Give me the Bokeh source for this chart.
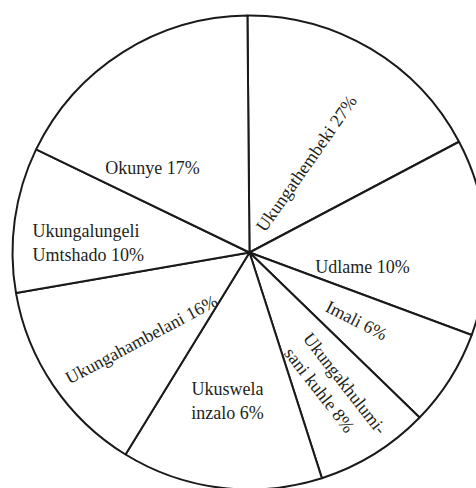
import math
from bokeh.plotting import figure
from bokeh.models import Range1d, ColumnDataSource
from bokeh.core.properties import value
from bokeh.embed import file_html
from bokeh.resources import INLINE

# Slice shares as drawn in the picture (clockwise from the top), and their printed labels
categories = ["Ukungathembeki", "Udlame", "Imali", "Ukungakhulumisani kuhle",
              "Ukuswela inzalo", "Ukungahambelani", "Ukungalungeli Umtshado", "Okunye"]
drawn_share = [17.4, 13.4, 6.6, 7.8, 13.7, 13.5, 9.9, 17.7]
labels = ["Ukungathembeki 27%", "Udlame 10%", "Imali 6%", "Ukungakhulumi-\nsani kuhle 8%",
          "Ukuswela\ninzalo 6%", "Ukungahambelani 16%", "Ukungalungeli\nUmtshado 10%", "Okunye 17%"]

W, H = 476, 488
cx, cy, R = 249, 236, 237
start_deg = 90.5

p = figure(width=W, height=H, output_backend="svg", toolbar_location=None,
           x_range=Range1d(0, W), y_range=Range1d(0, H), min_border=0)
p.axis.visible = False
p.grid.visible = False
p.outline_line_color = None
p.background_fill_color = "white"
p.border_fill_color = "white"

total = sum(drawn_share)
starts, ends = [], []
cum = 0.0
for v in drawn_share:
    a_hi = math.radians(start_deg - cum / total * 360)
    cum += v
    a_lo = math.radians(start_deg - cum / total * 360)
    starts.append(a_lo)
    ends.append(a_hi)

src = ColumnDataSource(dict(x=[cx] * len(starts), y=[cy] * len(starts), s=starts, e=ends))
p.wedge(x="x", y="y", radius=R, start_angle="s", end_angle="e", source=src,
        fill_color="white", line_color="#1a1a1a", line_width=2, direction="anticlock")

# label placement (offset from centre, rotation in degrees, alignment)
place = [(57, 89, 55, "center"), (113, -14, 0, "center"), (107, -68, -27, "center"),
         (48, -90, -52, "left"), (-22, -148, 0, "center"), (-108, -87, 28, "center"),
         (-217, 10, 0, "left"), (-97, 85, 0, "center")]

for align in ("center", "left"):
    xs, ys, ts, angs = [], [], [], []
    for lab, (dx, dy, ang, al) in zip(labels, place):
        if al != align:
            continue
        xs.append(cx + dx)
        ys.append(cy + dy)
        ts.append(lab)
        angs.append(math.radians(ang))
    p.text(x=xs, y=ys, text=ts, angle=angs, text_align=align, text_baseline="middle",
           text_font=value("Liberation Serif"), text_font_size="18px",
           text_color="#231f20", text_line_height=1.2)

open("out.html", "w").write(file_html(p, INLINE))
